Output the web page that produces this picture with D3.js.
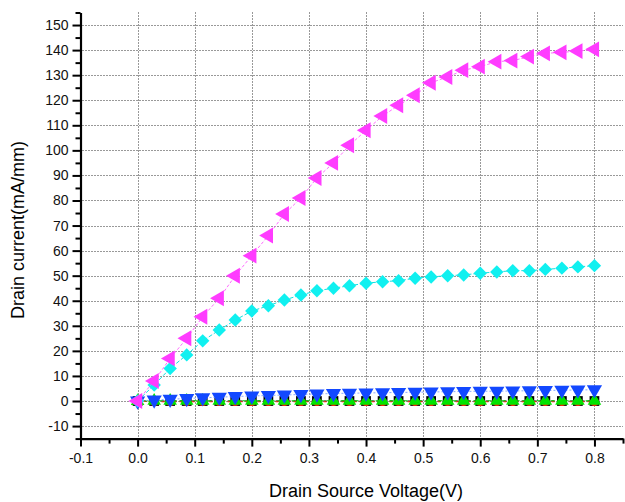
<!DOCTYPE html>
<html>
<head>
<meta charset="utf-8">
<script src="https://cdn.jsdelivr.net/npm/d3@7"></script>
<style>
  body { margin: 0; background: #fff; }
  svg text { font-family: "Liberation Sans", Arial, sans-serif; }
</style>
</head>
<body>
<svg width="625" height="502"></svg>
<script>
// Code goes here

var vds = [0, 0.029, 0.057, 0.086, 0.114, 0.143, 0.171, 0.2, 0.229, 0.257, 0.286, 0.314, 0.343, 0.371, 0.4,
  0.429, 0.457, 0.486, 0.514, 0.543, 0.571, 0.6, 0.629, 0.657, 0.686, 0.714, 0.743, 0.771, 0.8];

var idBlack = [0, 0, 0, 0, 0, 0, 0, 0, 0, 0, 0, 0, 0, 0, 0, 0, 0, 0, 0, 0, 0, 0, 0, 0, 0, 0, 0, 0, 0];
var idRed = [0, -0.3, -0.3, -0.3, -0.3, -0.3, -0.3, -0.3, -0.3, -0.3, -0.3, -0.3, -0.3, -0.3, -0.3,
  -0.3, -0.3, -0.3, -0.3, -0.3, -0.3, -0.3, -0.3, -0.3, -0.3, -0.3, -0.3, -0.3, -0.3];
var idGreen = [0, 0.1, 0.1, 0.1, 0.1, 0.1, 0.1, 0.1, 0.1, 0.1, 0.1, 0.1, 0.1, 0.1, 0.1,
  0.1, 0.1, 0.1, 0.1, 0.1, 0.1, 0.1, 0.1, 0.1, 0.1, 0.1, 0.1, 0.1, 0.1];
var idBlue = [0, 0.4, 0.7, 1.0, 1.3, 1.5, 1.8, 2.0, 2.2, 2.4, 2.6, 2.8, 3.0, 3.1, 3.2,
  3.3, 3.4, 3.5, 3.6, 3.7, 3.8, 3.9, 3.9, 4.0, 4.1, 4.2, 4.3, 4.4, 4.5];
var idCyan = [0, 6.4, 13, 18.4, 24, 28.3, 32.3, 35.9, 38, 40.3, 42.3, 44, 45, 46, 47,
  47.6, 48, 49, 49.5, 50, 50.3, 51, 51.5, 52, 52, 52.5, 53, 53.5, 54];
var idMagenta = [0, 8, 17, 25, 33.6, 41, 50, 58, 66, 74.6, 81, 89, 95, 102, 108,
  113.7, 118, 122, 127, 129.3, 132, 133.4, 135.4, 135.8, 137.4, 138.7, 139.1, 139.6, 140.3];

var xTicks = [-0.1, 0, 0.1, 0.2, 0.3, 0.4, 0.5, 0.6, 0.7, 0.8];
var yTicks = [-10, 0, 10, 20, 30, 40, 50, 60, 70, 80, 90, 100, 110, 120, 130, 140, 150];

window.onload = () => {

  var svg = d3.select("svg");

  var x = d3.scaleLinear().domain([-0.1, 0.85]).range([80.5, 623]);
  var y = d3.scaleLinear().domain([-15, 155]).range([438.6, 12.5]);

  //###############################################
  // Grid
  //###############################################

  var grid = svg.append("g").attr("class", "grid")
    .attr("stroke", "#333").attr("stroke-width", 1).attr("stroke-dasharray", "1,2");

  grid.selectAll("line.h")
    .data(yTicks)
    .enter().append("line")
      .attr("class", "h")
      .attr("x1", x(-0.1) + 2).attr("x2", x(0.85))
      .attr("y1", function(d) { return Math.round(y(d)) + 0.5; })
      .attr("y2", function(d) { return Math.round(y(d)) + 0.5; });

  grid.selectAll("line.v")
    .data(xTicks.filter(function(d) { return d > -0.1; }))
    .enter().append("line")
      .attr("class", "v")
      .attr("y1", y(155)).attr("y2", y(-15))
      .attr("x1", function(d) { return Math.round(x(d)) + 0.5; })
      .attr("x2", function(d) { return Math.round(x(d)) + 0.5; });

  //###############################################
  // Series
  //###############################################

  var series = [
    {vals: idBlack, color: "#000000", line: "#000000", dash: "3,3", sym: d3.symbolSquare, size: 95, rot: 0},
    {vals: idRed, color: "#ff2a00", line: "#ff2a00", dash: "3,3", sym: d3.symbolCircle, size: 60, rot: 0},
    {vals: idGreen, color: "#00e400", line: "#00c800", dash: "4,3", sym: d3.symbolTriangle, size: 80, rot: 0},
    {vals: idBlue, color: "#1248ff", line: "#8aa8ff", dash: "2,2", sym: d3.symbolTriangle, size: 100, rot: 180},
    {vals: idCyan, color: "#10f0f0", line: "#10e0e0", dash: "4,2", sym: d3.symbolSquare, size: 90, rot: 45},
    {vals: idMagenta, color: "#ff3cff", line: "#ff6cff", dash: "3,2", sym: d3.symbolTriangle, size: 110, rot: -90}
  ];

  var line = d3.line()
    .x(function(d) { return x(d[0]); })
    .y(function(d) { return y(d[1]); });

  series.forEach(function(s) {
    var pts = vds.map(function(v, i) { return [v, s.vals[i]]; });
    var g = svg.append("g");
    g.append("path")
      .datum(pts)
      .attr("fill", "none")
      .attr("stroke", s.line)
      .attr("stroke-width", 1)
      .attr("stroke-dasharray", s.dash)
      .attr("d", line);
    g.selectAll("path.m")
      .data(pts)
      .enter().append("path")
        .attr("class", "m")
        .attr("d", d3.symbol().type(s.sym).size(s.size))
        .attr("fill", s.color)
        .attr("transform", function(d) {
          return "translate(" + x(d[0]) + "," + y(d[1]) + ") rotate(" + s.rot + ")";
        });
  });

  //###############################################
  // Axes
  //###############################################

  var xMinor = d3.range(-0.1, 0.851, 0.05).filter(function(d) { return Math.abs(Math.round(d * 20) % 2) === 1; });
  var yMinor = d3.range(-15, 156, 10);

  var fmtX = function(d) { return d3.format(".1f")(d).replace("\u2212", "-"); };
  var fmtY = function(d) { return String(d); };

  var xAxis = svg.append("g").attr("transform", "translate(0," + y(-15) + ")");
  xAxis.call(d3.axisBottom(x).tickValues(xTicks).tickSize(8).tickSizeOuter(0).tickPadding(6)
    .tickFormat(fmtX));
  xAxis.append("g").call(d3.axisBottom(x).tickValues(xMinor).tickSize(5).tickSizeOuter(0).tickFormat(""))
    .select(".domain").remove();

  var yAxis = svg.append("g").attr("transform", "translate(" + x(-0.1) + ",0)");
  yAxis.call(d3.axisLeft(y).tickValues(yTicks).tickSize(8).tickSizeOuter(0).tickPadding(4).tickFormat(fmtY));
  yAxis.append("g").call(d3.axisLeft(y).tickValues(yMinor).tickSize(5).tickSizeOuter(0).tickFormat(""))
    .select(".domain").remove();

  svg.selectAll(".domain").attr("stroke-width", 2.2);
  svg.selectAll(".tick line").attr("stroke-width", 2);
  svg.selectAll(".tick text")
    .attr("font-size", 14)
    .attr("fill", "#111")
    .style("font-family", "'Liberation Sans', Arial, sans-serif");

  svg.append("text")
    .attr("x", 366).attr("y", 497)
    .attr("text-anchor", "middle")
    .attr("font-size", 18)
    .text("Drain Source Voltage(V)");

  svg.append("text")
    .attr("transform", "translate(24,230) rotate(-90)")
    .attr("text-anchor", "middle")
    .attr("font-size", 18)
    .text("Drain current(mA/mm)");

}
</script>
</body>
</html>
